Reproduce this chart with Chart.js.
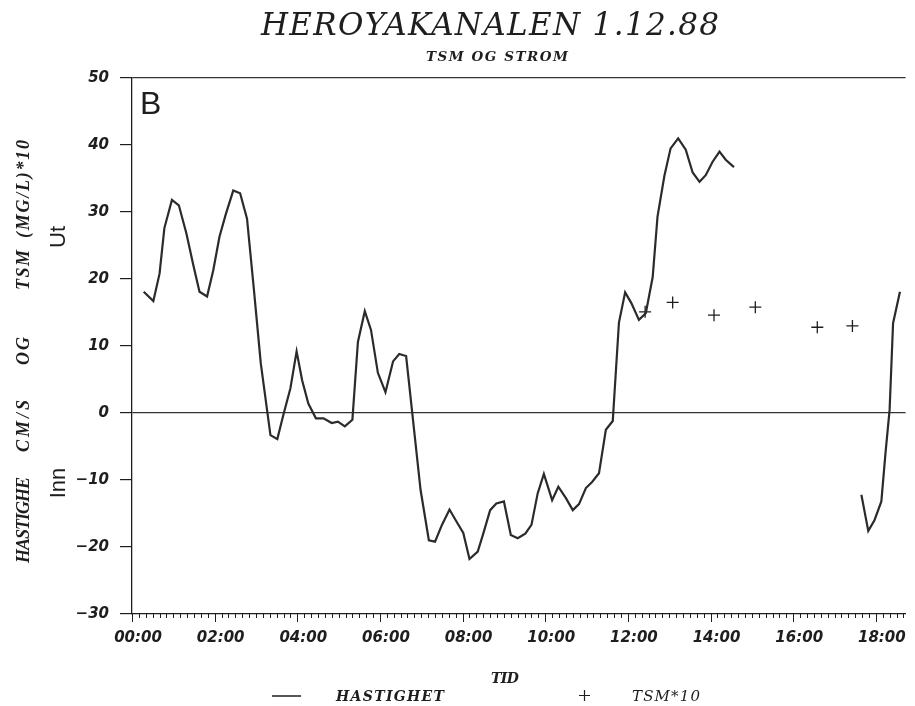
<!DOCTYPE html>
<html>
<head>
<meta charset="utf-8">
<script src="https://cdn.jsdelivr.net/npm/chart.js@4"></script>
<style>
  html, body { margin: 0; padding: 0; background: #fff; }
  #wrap { width: 915px; height: 706px; position: relative; }
</style>
</head>
<body>
<div id="wrap"><canvas id="c" width="915" height="706"></canvas></div>
<script>
// Current speed (cm/s), positive = out of the channel ("Ut"), negative = inward ("Inn")
const speedTimes = [
  "00:17","00:31","00:40","00:47","00:58","01:08","01:19","01:29","01:38","01:49",
  "01:58","02:07","02:16","02:27","02:37","02:47","02:57","03:07","03:21","03:31",
  "03:40","03:50","03:59","04:07","04:16","04:27","04:38","04:50","04:59","05:09",
  "05:20","05:28","05:38","05:47","05:57","06:08","06:19","06:28","06:38","06:59",
  "07:11","07:20","07:30","07:41","07:50","08:01","08:10","08:22","08:30","08:40",
  "08:49","09:00","09:10","09:20","09:31","09:40","09:49","09:58","10:10","10:19",
  "10:30","10:40","10:49","10:59","11:08","11:18","11:28","11:38","11:47","11:56",
  "12:05","12:16","12:26","12:36","12:43","12:53","13:02","13:13","13:24","13:34",
  "13:44","13:53","14:03","14:13","14:22","14:34",
  "17:39","17:49","17:58","18:08","18:14","18:20","18:25","18:35"
];
const speedValues = [
  18.1, 16.7, 20.8, 27.6, 31.8, 31.0, 26.8, 22.1, 18.1, 17.4,
  21.3, 26.3, 29.6, 33.2, 32.8, 29.0, 18.4, 7.4, -3.3, -3.9,
  -0.2, 3.7, 9.2, 4.9, 1.4, -0.8, -0.8, -1.5, -1.3, -2.0,
  -1.0, 10.6, 15.2, 12.4, 6.0, 3.1, 7.7, 8.8, 8.5, -11.5,
  -19.0, -19.2, -16.7, -14.4, -16.0, -17.9, -21.8, -20.7, -18.0, -14.5,
  -13.5, -13.2, -18.2, -18.7, -18.0, -16.7, -12.0, -9.1, -13.0, -11.0,
  -12.7, -14.5, -13.6, -11.2, -10.3, -9.0, -2.5, -1.2, 13.5, 18.0,
  16.4, 13.9, 14.9, 20.3, 29.3, 35.4, 39.5, 41.0, 39.3, 35.9,
  34.5, 35.5, 37.5, 39.0, 37.8, 36.7,
  -12.2, -17.6, -16.0, -13.2, -6.0, 0.5, 13.4, 18.1
];

// Suspended matter (mg/l), plotted times 10
const tsmTimes  = ["12:25","13:05","14:05","15:05","16:35","17:26"];
const tsmValues = [15.1, 16.5, 14.6, 15.8, 12.8, 13.0];

const yTicks = [-30, -20, -10, 0, 10, 20, 30, 40, 50];
const xTickHours = [0, 2, 4, 6, 8, 10, 12, 14, 16, 18];

const toHours = s => { const [h, m] = s.split(":").map(Number); return h + m / 60; };
const pad2 = n => String(n).padStart(2, "0");

// Series points; a pause of more than an hour between readings breaks the line
const speedPoints = [];
speedTimes.forEach((t, i) => {
  const x = toHours(t);
  if (i > 0) {
    const prev = toHours(speedTimes[i - 1]);
    if (x - prev > 1) speedPoints.push({ x: (x + prev) / 2, y: null });
  }
  speedPoints.push({ x, y: speedValues[i] });
});
const tsmPoints = tsmTimes.map((t, i) => ({ x: toHours(t), y: tsmValues[i] }));

const INK = "#1e1e1e";
const SERIF = "'DejaVu Serif', 'Liberation Serif', serif";
const LSERIF = "'Liberation Serif', 'DejaVu Serif', serif";
const SANS = "'Liberation Sans', Arial, sans-serif";
const TICKSANS = "'DejaVu Sans', 'Liberation Sans', sans-serif";

// Draws text spread over a given width (letter spacing), anchored at its centre or left edge
function spreadText(ctx, text, font, width, x, y, align) {
  ctx.font = font;
  ctx.letterSpacing = "0px";
  const w = ctx.measureText(text).width;
  const ls = text.length > 1 ? (width - w) / (text.length - 1) : 0;
  ctx.letterSpacing = ls.toFixed(2) + "px";
  ctx.textAlign = "left";
  const x0 = align === "center" ? x - width / 2 : x;
  ctx.fillText(text, x0, y);
  ctx.letterSpacing = "0px";
}

// words of the vertical axis title: [text, centre y, length]
const yTitleWords = [
  ["HASTIGHE", 520, 86], ["CM/S", 426, 52], ["OG", 351, 28],
  ["TSM", 270, 40], ["(MG/L)*10", 189, 98]
];

const decorations = {
  id: "decorations",
  afterDraw(chart) {
    const ctx = chart.ctx;
    const xs = chart.scales.x;
    const area = chart.chartArea;
    ctx.save();
    ctx.fillStyle = INK;
    ctx.strokeStyle = INK;
    ctx.textBaseline = "alphabetic";

    // minor time ticks every 10 minutes, longer every 2 hours
    ctx.lineWidth = 1;
    for (let m = 0; m / 60 <= xs.max + 1e-9; m += 10) {
      const px = Math.round(xs.getPixelForValue(m / 60)) + 0.5;
      const len = m % 120 === 0 ? 8 : 4;
      ctx.beginPath();
      ctx.moveTo(px, area.bottom);
      ctx.lineTo(px, area.bottom + len);
      ctx.stroke();
    }

    // title and subtitle
    spreadText(ctx, "HEROYAKANALEN 1.12.88", `italic 31px ${SERIF}`, 458, 490, 35, "center");
    spreadText(ctx, "TSM OG STROM", `bold italic 13.5px ${SERIF}`, 142, 497, 61, "center");

    // panel letter
    ctx.textAlign = "left";
    ctx.font = `32px ${SANS}`;
    ctx.fillText("B", area.left + 8, area.top + 36);

    // vertical axis title, word by word
    yTitleWords.forEach(([t, cy, len]) => {
      ctx.save();
      ctx.translate(29, cy);
      ctx.rotate(-Math.PI / 2);
      spreadText(ctx, t, `bold italic 18px ${LSERIF}`, len, 0, 0, "center");
      ctx.restore();
    });

    // direction words
    ctx.font = `22px ${SANS}`;
    [["Ut", 237], ["Inn", 483]].forEach(([t, cy]) => {
      ctx.save();
      ctx.translate(65, cy);
      ctx.rotate(-Math.PI / 2);
      ctx.textAlign = "center";
      ctx.fillText(t, 0, 0);
      ctx.restore();
    });

    // time axis title
    spreadText(ctx, "TID", `bold italic 14px ${SERIF}`, 28, 505, 683, "center");

    // legend
    ctx.lineWidth = 1.5;
    ctx.beginPath();
    ctx.moveTo(272, 696);
    ctx.lineTo(301, 696);
    ctx.stroke();
    spreadText(ctx, "HASTIGHET", `bold italic 14px ${SERIF}`, 108, 336, 701, "left");
    ctx.lineWidth = 1.2;
    ctx.beginPath();
    ctx.moveTo(579, 695.5); ctx.lineTo(590, 695.5);
    ctx.moveTo(584.5, 690); ctx.lineTo(584.5, 701);
    ctx.stroke();
    spreadText(ctx, "TSM*10", `italic 15px ${SERIF}`, 68, 632, 701, "left");

    ctx.restore();
  }
};

new Chart(document.getElementById("c"), {
  type: "line",
  data: {
    datasets: [
      {
        label: "HASTIGHET",
        data: speedPoints,
        borderColor: "#2b2b2b",
        borderWidth: 2.2,
        pointRadius: 0,
        tension: 0,
        spanGaps: false
      },
      {
        label: "TSM*10",
        data: tsmPoints,
        showLine: false,
        pointStyle: "cross",
        pointRadius: 6,
        pointBorderWidth: 1.3,
        pointBorderColor: INK,
        borderColor: INK
      }
    ]
  },
  options: {
    responsive: false,
    animation: false,
    devicePixelRatio: 1,
    layout: { padding: { top: 78, right: 2, bottom: 40, left: 0 } },
    plugins: {
      legend: { display: false },
      title: { display: false },
      tooltip: { enabled: false }
    },
    scales: {
      x: {
        type: "linear",
        min: 0,
        max: 18.72,
        afterBuildTicks: s => { s.ticks = xTickHours.map(v => ({ value: v })); },
        afterFit: s => { s.height = 52; },
        ticks: {
          callback: v => pad2(v) + ":00",
          color: INK,
          padding: 15,
          maxRotation: 0,
          autoSkip: false,
          labelOffset: 6,
          font: { family: TICKSANS, size: 15, style: "italic", weight: "bold" }
        },
        grid: { drawOnChartArea: false, drawTicks: false },
        border: { display: true, color: INK, width: 1.3 }
      },
      y: {
        min: -30,
        max: 50,
        afterBuildTicks: s => { s.ticks = yTicks.map(v => ({ value: v })); },
        afterFit: s => { s.width = 132; },
        ticks: {
          callback: v => (v < 0 ? "\u2212" + Math.abs(v) : String(v)),
          color: INK,
          padding: 11,
          font: { family: TICKSANS, size: 15, style: "italic", weight: "bold" }
        },
        grid: {
          drawOnChartArea: true,
          drawTicks: true,
          tickLength: 12,
          tickColor: INK,
          lineWidth: 1.2,
          color: c => (c.tick && (c.tick.value === 0 || c.tick.value === 50)) ? "#333" : "rgba(0,0,0,0)"
        },
        border: { display: true, color: INK, width: 1.3 }
      }
    }
  },
  plugins: [decorations]
});
</script>
</body>
</html>
